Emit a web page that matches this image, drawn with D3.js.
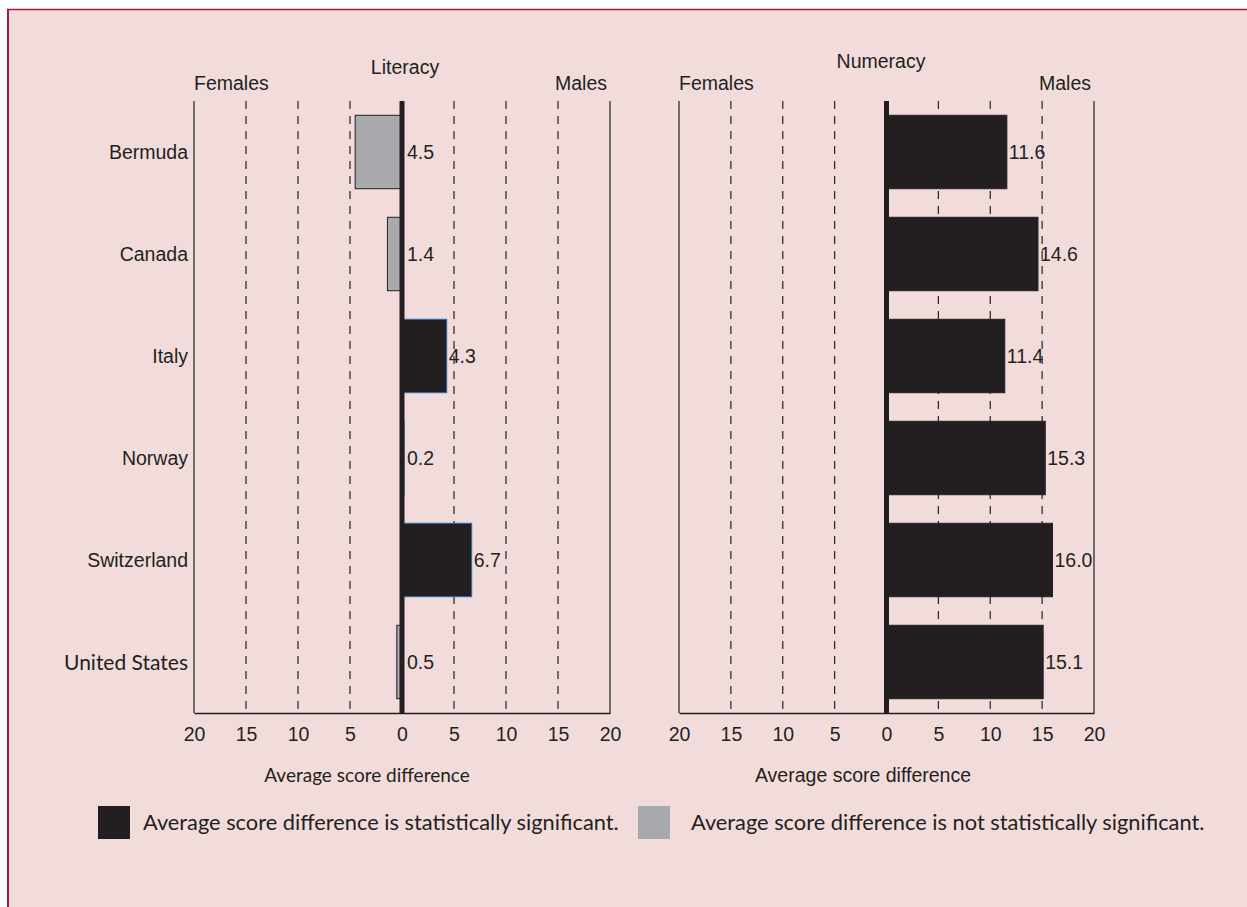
<!DOCTYPE html>
<html><head><meta charset="utf-8">
<script src="https://cdn.jsdelivr.net/npm/d3@7"></script>
<style>body{margin:0;background:#fff} svg{display:block}</style>
</head><body>
<svg id="chart" width="1247" height="907"></svg>
<script>
const countries = ["Bermuda","Canada","Italy","Norway","Switzerland","United States"];
const literacyValues = [-4.5,-1.4,4.3,0.2,6.7,-0.5];
const literacySignificant = [false,false,true,true,true,false];
const numeracyValues = [11.6,14.6,11.4,15.3,16.0,15.1];
const numeracySignificant = [true,true,true,true,true,true];
const tickValues = [-20,-15,-10,-5,0,5,10,15,20];
const gridValues = [-15,-10,-5,5,10,15];
const panelTitles = ["Literacy","Numeracy"];
const sideLabels = ["Females","Males"];
const axisTitle = "Average score difference";
const legendLabels = ["Average score difference is statistically significant.","Average score difference is not statistically significant."];

const INK = "#231f20", GRAY = "#a7a9ac", BG = "#f2dcdb", BORDER = "#a3193f";
const ARIAL = "'Liberation Sans', Arial, sans-serif";
const MYRIAD = "Lato, 'Open Sans', sans-serif";
const FS = 19.5;

const svg = d3.select("#chart");
svg.append("rect").attr("x",7).attr("y",9).attr("width",1240).attr("height",898).attr("fill",BG);
svg.append("line").attr("x1",7).attr("x2",1247).attr("y1",9.5).attr("y2",9.5).attr("stroke",BORDER).attr("stroke-width",1.5);
svg.append("line").attr("x1",8).attr("x2",8).attr("y1",9).attr("y2",907).attr("stroke",BORDER).attr("stroke-width",2);

const plotTop = 101, plotBottom = 713;
const y = d3.scaleBand().domain(countries).range([plotTop,plotBottom]).paddingInner(0.28).paddingOuter(0.14);

const panels = [
  {values: literacyValues, sig: literacySignificant, range:[194,610], title: panelTitles[0], titleX:405, titleY:74,
   sigStroke:"#2a6db5", axisFont: MYRIAD, axisSize: 19, axisX: 367, axisY: 782, malesX: 607},
  {values: numeracyValues, sig: numeracySignificant, range:[679,1094], title: panelTitles[1], titleX:881, titleY:68,
   sigStroke:INK, axisFont: ARIAL, axisSize: FS, axisX: 863, axisY: 782, malesX: 1091}
];

panels.forEach(p => {
  const x = d3.scaleLinear().domain([-20,20]).range(p.range);
  const g = svg.append("g");
  g.selectAll(".grid").data(gridValues).join("line")
    .attr("x1",d=>x(d)).attr("x2",d=>x(d)).attr("y1",plotTop).attr("y2",plotBottom)
    .attr("stroke",INK).attr("stroke-width",1.2).attr("stroke-dasharray","8,7");
  g.selectAll(".side").data([-20,20]).join("line")
    .attr("x1",d=>x(d)).attr("x2",d=>x(d)).attr("y1",plotTop).attr("y2",plotBottom)
    .attr("stroke","#444").attr("stroke-width",1.5);
  const rows = countries.map((c,i)=>({c, v:p.values[i], s:p.sig[i]}));
  g.selectAll(".bar").data(rows).join("rect")
    .attr("x",d=>Math.min(x(0),x(d.v))).attr("y",d=>y(d.c))
    .attr("width",d=>Math.abs(x(d.v)-x(0))).attr("height",y.bandwidth())
    .attr("fill",d=>d.s?INK:GRAY)
    .attr("stroke",d=>d.s?p.sigStroke:INK).attr("stroke-width",1);
  g.append("line").attr("x1",x(0)).attr("x2",x(0)).attr("y1",plotTop).attr("y2",plotBottom)
    .attr("stroke",INK).attr("stroke-width",5);
  g.selectAll(".val").data(rows).join("text")
    .attr("x",d=>Math.max(x(d.v)+2, x(0)+5)).attr("y",d=>y(d.c)+y.bandwidth()/2).attr("dy","0.36em")
    .attr("font-family",ARIAL).attr("font-size",FS).attr("fill",INK)
    .text(d=>d3.format(".1f")(Math.abs(d.v)));
  const ax = g.append("g").attr("transform",`translate(0,${plotBottom})`)
    .call(d3.axisBottom(x).tickValues(tickValues).tickSize(0).tickSizeOuter(0).tickPadding(14).tickFormat(d=>Math.abs(d)));
  ax.select(".domain").attr("stroke",INK).attr("stroke-width",1.5);
  ax.selectAll("text").attr("font-family",ARIAL).attr("font-size",FS).attr("fill",INK);
  g.append("text").attr("x",p.range[0]).attr("y",90).attr("font-family",ARIAL).attr("font-size",FS).attr("fill",INK).text(sideLabels[0]);
  g.append("text").attr("x",p.malesX).attr("y",90).attr("text-anchor","end").attr("font-family",ARIAL).attr("font-size",FS).attr("fill",INK).text(sideLabels[1]);
  g.append("text").attr("x",p.titleX).attr("y",p.titleY).attr("text-anchor","middle").attr("font-family",ARIAL).attr("font-size",FS).attr("fill",INK).text(p.title);
  g.append("text").attr("x",p.axisX).attr("y",p.axisY).attr("text-anchor","middle").attr("font-family",p.axisFont).attr("font-size",p.axisSize).attr("fill",INK).text(axisTitle);
});

svg.selectAll(".country").data(countries).join("text")
  .attr("x",188).attr("y",d=>y(d)+y.bandwidth()/2).attr("dy","0.36em").attr("text-anchor","end")
  .attr("font-family",(d,i)=> i===countries.length-1 ? MYRIAD : ARIAL)
  .attr("font-size",(d,i)=> i===countries.length-1 ? 21 : FS)
  .attr("fill",INK).text(d=>d);

const legend = [{fill:INK, x:98, tx:143, label:legendLabels[0]},{fill:GRAY, x:638, tx:691, label:legendLabels[1]}];
svg.selectAll(".lgbox").data(legend).join("rect")
  .attr("x",d=>d.x).attr("y",806).attr("width",32).attr("height",33).attr("fill",d=>d.fill);
svg.selectAll(".lgtext").data(legend).join("text")
  .attr("x",d=>d.tx).attr("y",830).attr("font-family",MYRIAD).attr("font-size",21.8).attr("fill",INK)
  .text(d=>d.label);
</script>
</body></html>
